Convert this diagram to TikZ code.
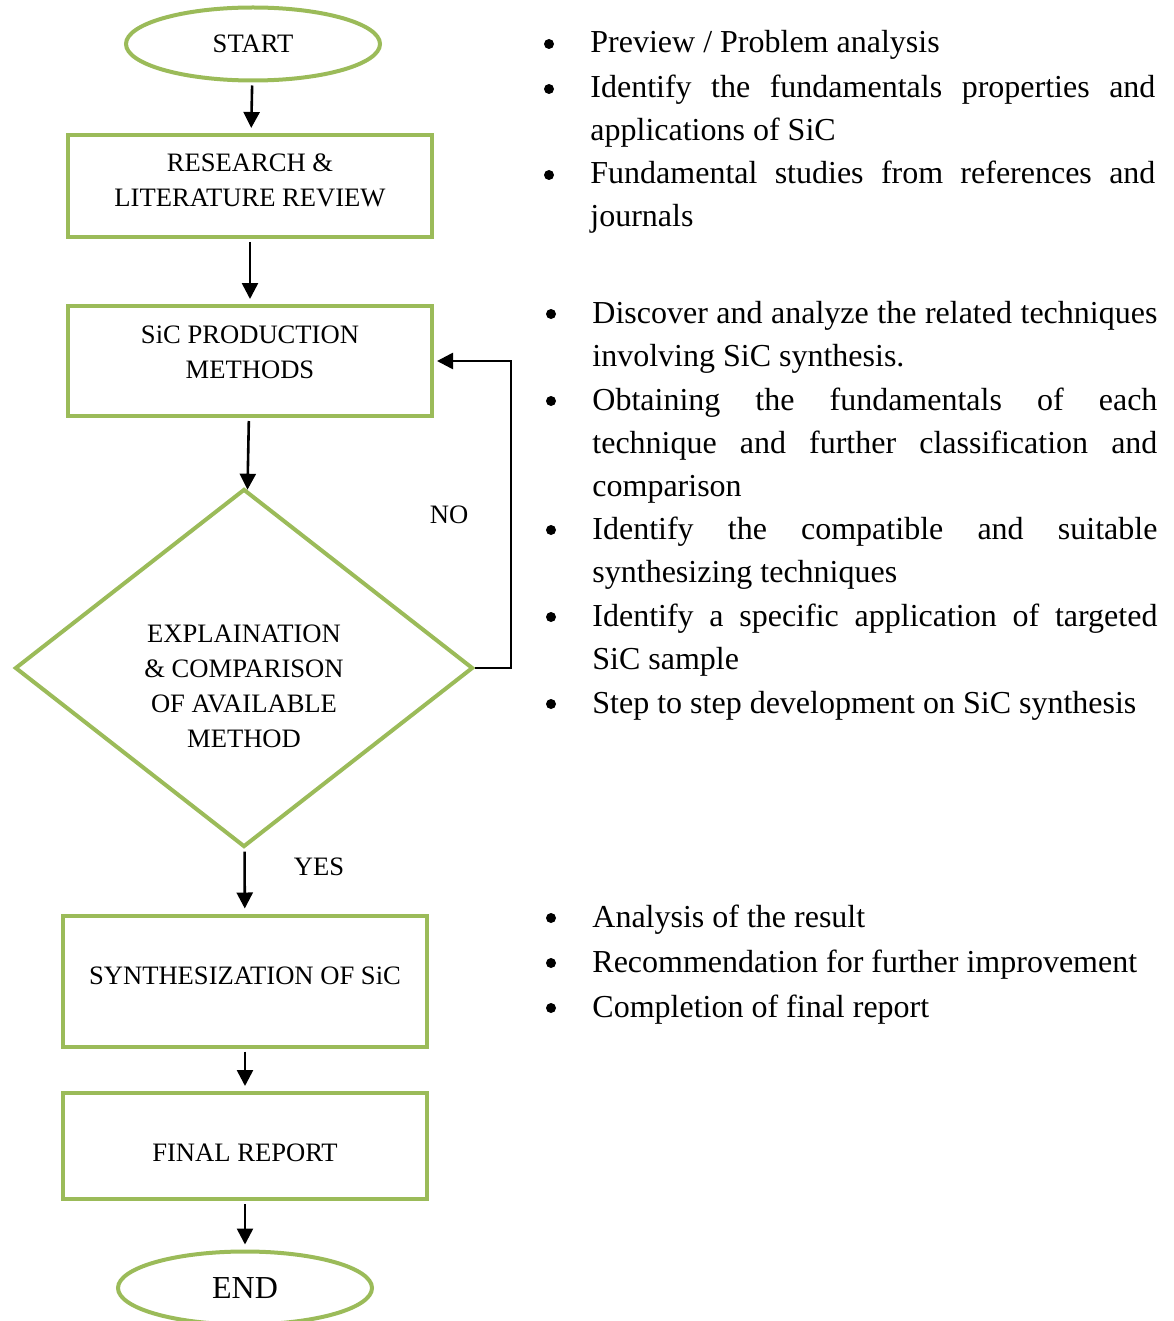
\documentclass[tikz,border=0pt]{standalone}
\usepackage{fontspec}
\setmainfont{Liberation Serif}
\usetikzlibrary{shapes.geometric,arrows.meta,positioning}
\definecolor{fc-green}{HTML}{9BBB59}
\tikzset{
    stage/.style={draw=fc-green, line width=2pt, rectangle, minimum width=182pt, inner sep=0pt},
    terminal/.style={draw=fc-green, line width=2pt, ellipse, minimum width=127pt, minimum height=36.5pt, inner sep=0pt},
    decision/.style={draw=fc-green, line width=2pt, diamond, minimum width=229pt, minimum height=179pt, inner sep=0pt},
    caption/.style={inner sep=0pt, align=center, font=\fontsize{13.3}{17.5}\selectfont},
    flow/.style={-{Triangle[width=8pt,length=8pt]}, line width=1.3pt, shorten <=1.5pt, shorten >=2.5pt},
    flowlabel/.style={inner sep=0pt, font=\fontsize{13.3}{16}\selectfont},
    bulletmark/.style={circle, fill=black, inner sep=0pt, minimum size=5pt},
    listitem/.style={anchor=base west, inner sep=0pt, text width=282.5pt, align=justify, font=\fontsize{16}{21.5}\selectfont,
        execute at begin node={\tolerance=10000\hyphenpenalty=10000\relax}}
}
\begin{document}
\begin{tikzpicture}[x=0.5pt, y=-0.5pt]
    \useasboundingbox (0,0) rectangle (1173,1321);
    % flow chart
    \node[terminal, font=\fontsize{13.3}{16}\selectfont] (start) at (253,44) {START};
    \node[stage, minimum height=51pt] (review) at (250,186) {};
    \node[caption] (reviewtext) at (250,180) {RESEARCH \&\\LITERATURE REVIEW};
    \node[stage, minimum height=55pt] (methods) at (250,361) {};
    \node[caption] (methodstext) at (250,352) {SiC PRODUCTION\\METHODS};
    \node[decision] (check) at (244,668) {};
    \node[caption] (checktext) at (244,686) {EXPLAINATION\\\& COMPARISON\\OF AVAILABLE\\METHOD};
    \node[stage, minimum height=65.5pt] (synth) at (245,981) {};
    \node[caption] (synthtext) at (245,976) {SYNTHESIZATION OF SiC};
    \node[stage, minimum height=53pt] (report) at (245,1146) {};
    \node[caption] (reporttext) at (245,1153) {FINAL REPORT};
    \node[terminal, font=\fontsize{16}{18}\selectfont] (end) at (245,1288) {END};
    \coordinate (back) at (511,668);
    \draw[flow] (start) -- (review);
    \draw[flow] (review) -- (methods);
    \draw[flow, shorten >=0pt] (methods) -- (check);
    \draw[flow] (check) -- (synth);
    \draw[flow] (synth) -- (report);
    \draw[flow] (report) -- (end);
    \draw[flow, shorten <=0pt, shorten >=1.5pt] (check.east) -- (back) |- (methods.east);
    \node[flowlabel] (no) at (449,515) {NO};
    \node[flowlabel] (yes) at (319,867) {YES};
    % notes
    \node[bulletmark] (m1) at (549,44) {};
    \node[listitem] (i1) at (590,53) {Preview / Problem analysis};
    \node[bulletmark] (m2) at (549,89) {};
    \node[listitem] (i2) at (590,98) {Identify the fundamentals properties and\linebreak applications of SiC};
    \node[bulletmark] (m3) at (549,175) {};
    \node[listitem] (i3) at (590,184) {Fundamental studies from references and\linebreak journals};
    \node[bulletmark] (m4) at (551,314) {};
    \node[listitem] (i4) at (592,323) {Discover and analyze the related techniques\linebreak involving SiC synthesis.};
    \node[bulletmark] (m5) at (551,401) {};
    \node[listitem] (i5) at (592,410) {Obtaining the fundamentals of each\linebreak technique and further classification and\linebreak comparison};
    \node[bulletmark] (m6) at (551,530) {};
    \node[listitem] (i6) at (592,539) {Identify the compatible and suitable\linebreak synthesizing techniques};
    \node[bulletmark] (m7) at (551,617) {};
    \node[listitem] (i7) at (592,626) {Identify a specific application of targeted\linebreak SiC sample};
    \node[bulletmark] (m8) at (551,704) {};
    \node[listitem] (i8) at (592,713) {Step to step development on SiC synthesis};
    \node[bulletmark] (m9) at (551,918) {};
    \node[listitem] (i9) at (592,927) {Analysis of the result};
    \node[bulletmark] (m10) at (551,963) {};
    \node[listitem] (i10) at (592,972) {Recommendation for further improvement};
    \node[bulletmark] (m11) at (551,1008) {};
    \node[listitem] (i11) at (592,1017) {Completion of final report};
\end{tikzpicture}
\end{document}
